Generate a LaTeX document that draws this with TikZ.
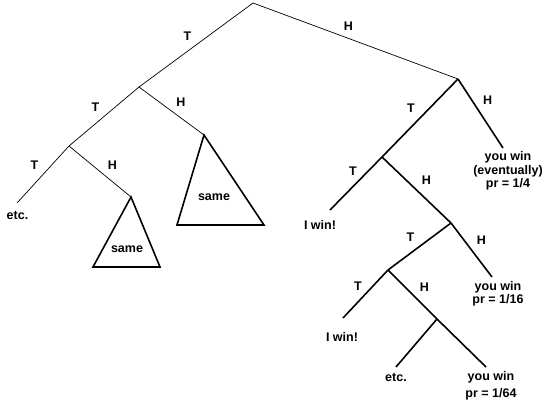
\documentclass[tikz,border=0pt]{standalone}
\usepackage{fontspec}
\setmainfont{Liberation Sans}
\tikzset{
  lbl/.style={font=\bfseries\fontsize{12.5}{13.5}\selectfont,inner sep=4.5pt},
  leaf/.style={font=\bfseries\fontsize{12.5}{13.5}\selectfont,align=center,inner sep=0pt},
  thinbr/.style={line width=0.7pt},
  thickbr/.style={line width=1.6pt},
  same/.style={line width=1.6pt,line join=miter}
}

\begin{document}
\begin{tikzpicture}[x=1pt,y=-1pt]
\useasboundingbox (0,0) rectangle (549,410);
% branch points
\coordinate (R) at (253,3);
\coordinate (L1) at (139,87);
\coordinate (L2) at (69,146);
\coordinate (R1) at (458,79);
\coordinate (R2) at (382,157);
\coordinate (R3) at (451,223);
\coordinate (R4) at (388,270);
\coordinate (R5) at (437,319);
% loose ends
\coordinate (e1) at (17,203);
\coordinate (h1) at (503,148);
\coordinate (t1) at (330,210);
\coordinate (h2) at (492,277);
\coordinate (t2) at (343,318);
\coordinate (e2) at (396,367);
\coordinate (h3) at (486,367);
% the two "same" subtrees
\coordinate (big) at (204,135);
\coordinate (bigL) at (177,225);
\coordinate (bigR) at (264,225);
\coordinate (sm) at (131,197);
\coordinate (smL) at (93,267);
\coordinate (smR) at (160,267);
\draw[same] (big) -- (bigL) -- (bigR) -- cycle;
\draw[same] (sm) -- (smL) -- (smR) -- cycle;
\node[leaf] (sameA) at (214,197) {same};
\node[leaf] (sameB) at (127,249) {same};
% outcomes
\node[leaf] (etcA) at (17.5,215) {etc.};
\node[leaf] (winA) at (508,171) {you win\\(eventually)\\pr = 1/4};
\node[leaf] (iwinA) at (320,224.5) {I win!};
\node[leaf] (winB) at (498,294) {you win\\pr = 1/16};
\node[leaf] (iwinB) at (342,336.5) {I win!};
\node[leaf] (etcB) at (396,377.5) {etc.};
\node[leaf] (winC) at (491,386) {you win\\[4pt]pr = 1/64};
% tosses
\path[thinbr]
(R) edge node[lbl,above left]{T} (L1)
(R) edge node[lbl,above right,pos=.42]{H} (R1)
(L1) edge node[lbl,above left]{T} (L2)
(L1) edge node[lbl,above right]{H} (big)
(L2) edge node[lbl,above left]{T} (e1)
(L2) edge node[lbl,above right,pos=.55]{H} (sm);
\path[thickbr]
(R1) edge node[lbl,above left]{T} (R2)
(R1) edge node[lbl,above right,pos=.44]{H} (h1)
(R2) edge node[lbl,above left,pos=.42,inner sep=2.5pt]{T} (t1)
(R2) edge node[lbl,above right]{H} (R3)
(R3) edge node[lbl,above left]{T} (R4)
(R3) edge node[lbl,above right]{H} (h2)
(R4) edge node[lbl,above left,inner sep=3pt]{T} (t2)
(R4) edge node[lbl,above right,pos=.54]{H} (R5)
(R5) edge (e2)
(R5) edge (h3);
\end{tikzpicture}
\end{document}
